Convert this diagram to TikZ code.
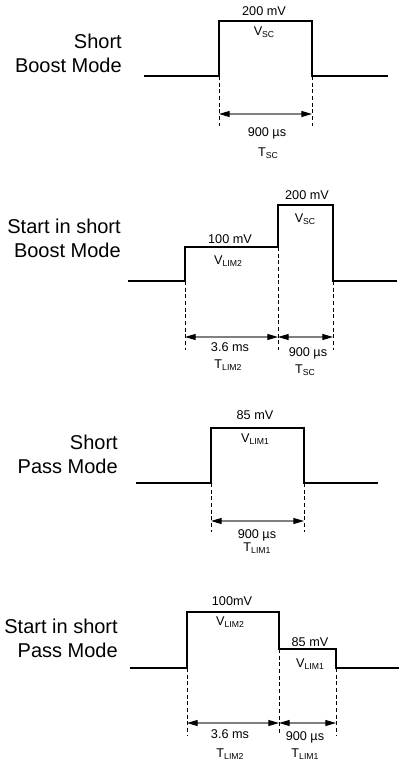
\documentclass[tikz,border=0pt]{standalone}
\usepackage{fontspec}
\setmainfont{Liberation Sans}
\usetikzlibrary{arrows.meta}
\newcommand{\lo}[1]{\raisebox{-0.3ex}{\fontsize{6.5}{6.5}\selectfont #1}}
\begin{document}
\begin{tikzpicture}[x=0.75pt,y=-0.75pt,
        wave/.style={line width=1.5pt},
        guide/.style={line width=0.6pt, dash pattern=on 3pt off 2pt},
        dim/.style={{Triangle[length=8pt,width=4.5pt,black]}-{Triangle[length=8pt,width=4.5pt,black]}, gray, line width=0.8pt},
        val/.style={font=\fontsize{9.5}{10}\selectfont, anchor=base, inner sep=0pt},
        mode/.style={font=\fontsize{15}{18}\selectfont, align=right, anchor=east, inner sep=0pt}]
    \useasboundingbox (0,0) rectangle (400,765);

    % Short Boost Mode
    \node[mode] (sbm) at (122,53) {Short\\Boost Mode};
    \draw[wave] (144,76) -- (219,76) -- (219,21) -- (312,21) -- (312,76) -- (388,76);
    \draw[guide] (219,76) -- (219,126);
    \draw[guide] (312,76) -- (312,126);
    \draw[dim] (219,114) -- (312,114);
    \node[val] (sbmv) at (264,15) {200 mV};
    \node[val] (sbmvn) at (264,35) {V\lo{SC}};
    \node[val] (sbmt) at (267,136) {900 µs};
    \node[val] (sbmtn) at (268,156) {T\lo{SC}};

    % Start in short Boost Mode
    \node[mode] (ssbm) at (121,238) {Start in short\\Boost Mode};
    \draw[wave] (128,281) -- (185,281) -- (185,247) -- (278,247) -- (278,205) -- (333,205) -- (333,281) -- (397,281);
    \draw[guide] (185,281) -- (185,350);
    \draw[guide] (278,247) -- (278,350);
    \draw[guide] (333,281) -- (333,350);
    \draw[dim] (185,337) -- (278,337);
    \draw[dim] (278,337) -- (333,337);
    \node[val] (ssbmva) at (230,243) {100 mV};
    \node[val] (ssbmvan) at (228,264) {V\lo{LIM2}};
    \node[val] (ssbmvb) at (307,199) {200 mV};
    \node[val] (ssbmvbn) at (305,222) {V\lo{SC}};
    \node[val] (ssbmta) at (230,351) {3.6 ms};
    \node[val] (ssbmtan) at (228,368) {T\lo{LIM2}};
    \node[val] (ssbmtb) at (308,356) {900 µs};
    \node[val] (ssbmtbn) at (305,373) {T\lo{SC}};

    % Short Pass Mode
    \node[mode] (spm) at (118,454) {Short\\Pass Mode};
    \draw[wave] (136,483) -- (211,483) -- (211,428) -- (304,428) -- (304,483) -- (378,483);
    \draw[guide] (211,483) -- (211,532);
    \draw[guide] (304,483) -- (304,532);
    \draw[dim] (211,521) -- (304,521);
    \node[val] (spmv) at (255,419) {85 mV};
    \node[val] (spmvn) at (255,442) {V\lo{LIM1}};
    \node[val] (spmt) at (257,538) {900 µs};
    \node[val] (spmtn) at (257,551) {T\lo{LIM1}};

    % Start in short Pass Mode
    \node[mode] (sspm) at (118,638) {Start in short\\Pass Mode};
    \draw[wave] (130,668) -- (187,668) -- (187,612) -- (279,612) -- (279,649) -- (336,649) -- (336,668) -- (399,668);
    \draw[guide] (187,668) -- (187,735);
    \draw[guide] (279,649) -- (279,735);
    \draw[guide] (336,668) -- (336,735);
    \draw[dim] (187,723) -- (279,723);
    \draw[dim] (279,723) -- (336,723);
    \node[val] (sspmva) at (232,605) {100mV};
    \node[val] (sspmvan) at (230,625) {V\lo{LIM2}};
    \node[val] (sspmvb) at (310,646) {85 mV};
    \node[val] (sspmvbn) at (310,667) {V\lo{LIM1}};
    \node[val] (sspmta) at (230,738) {3.6 ms};
    \node[val] (sspmtan) at (230,757) {T\lo{LIM2}};
    \node[val] (sspmtb) at (305,740) {900 µs};
    \node[val] (sspmtbn) at (305,757) {T\lo{LIM1}};
\end{tikzpicture}
\end{document}
